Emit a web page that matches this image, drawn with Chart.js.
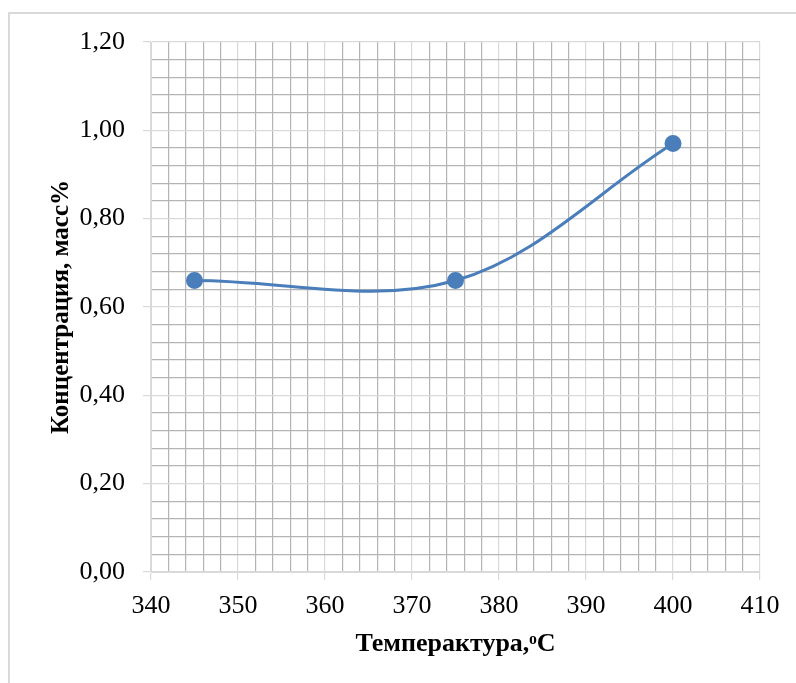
<!DOCTYPE html>
<html>
<head>
<meta charset="utf-8">
<script src="https://cdn.jsdelivr.net/npm/chart.js@4"></script>
<style>
  html, body { margin: 0; padding: 0; background: #fff; }
  #wrap { position: relative; width: 796px; height: 683px; }
  #frame { position: absolute; left: 8px; top: 12px; width: 800px; height: 700px;
           border-left: 2px solid #d9d9d9; border-top: 2px solid #d9d9d9; }
  canvas { position: absolute; left: 0; top: 0; }
</style>
</head>
<body>
<div id="wrap">
  <div id="frame"></div>
  <canvas id="chart" width="796" height="683"></canvas>
</div>
<script>
// temperature, C
var temperature = [345, 375, 400];
// concentration, mass %
var concentration = [0.66, 0.66, 0.97];

var xTitle = 'Темперактура,\u1d52C';
var yTitle = 'Концентрация, масс%';

var points = [];
for (var i = 0; i < temperature.length; i++) {
  points.push({x: temperature[i], y: concentration[i]});
}

var serif = 'Liberation Serif';
var majorGrid = '#d9d9d9';
var minorGrid = '#b4b4b4';

function isMajorX(v) { return Math.round(v) % 10 === 0; }
function isMajorY(v) { return Math.round(v * 100) % 20 === 0; }

var ctx = document.getElementById('chart');
var chart = new Chart(ctx, {
  type: 'scatter',
  data: {
    datasets: [{
      data: points,
      showLine: true,
      borderColor: '#4a7ebb',
      backgroundColor: '#4a7ebb',
      borderWidth: 3,
      pointRadius: 7,
      pointHoverRadius: 7,
      tension: 0.35
    }]
  },
  options: {
    responsive: false,
    animation: false,
    layout: { padding: { left: 20, right: 36, top: 42, bottom: 20 } },
    plugins: { legend: { display: false }, tooltip: { enabled: false } },
    scales: {
      x: {
        type: 'linear',
        min: 340, max: 410,
        afterFit: function(s) { s.height = 91; },
        ticks: {
          stepSize: 2,
          autoSkip: false,
          maxRotation: 0,
          padding: 11,
          color: '#000',
          font: { family: serif, size: 26 },
          callback: function(v) { return isMajorX(v) ? String(v) : ''; }
        },
        grid: {
          color: function(c) { return c.tick && isMajorX(c.tick.value) ? majorGrid : minorGrid; },
          tickColor: function(c) { return c.tick && isMajorX(c.tick.value) ? majorGrid : 'transparent'; },
          tickLength: 8,
          lineWidth: 1.2
        },
        border: { color: majorGrid, width: 1 },
        title: {
          display: true,
          text: xTitle,
          color: '#000',
          font: { family: serif, size: 26, weight: 'bold' },
          padding: { top: 0, bottom: 3 }
        }
      },
      y: {
        min: 0, max: 1.2,
        afterFit: function(s) { s.width = 131; },
        ticks: {
          stepSize: 0.04,
          autoSkip: false,
          padding: 18,
          color: '#000',
          font: { family: serif, size: 26 },
          callback: function(v) { return isMajorY(v) ? v.toFixed(2).replace('.', ',') : ''; }
        },
        grid: {
          color: function(c) { return c.tick && isMajorY(c.tick.value) ? majorGrid : minorGrid; },
          tickColor: function(c) { return c.tick && isMajorY(c.tick.value) ? majorGrid : 'transparent'; },
          tickLength: 8,
          lineWidth: 1.2
        },
        border: { color: majorGrid, width: 1 },
        title: {
          display: true,
          text: yTitle,
          color: '#000',
          font: { family: serif, size: 25, weight: 'bold' },
          padding: { top: 27, bottom: 0 }
        }
      }
    }
  }
});
</script>
</body>
</html>
